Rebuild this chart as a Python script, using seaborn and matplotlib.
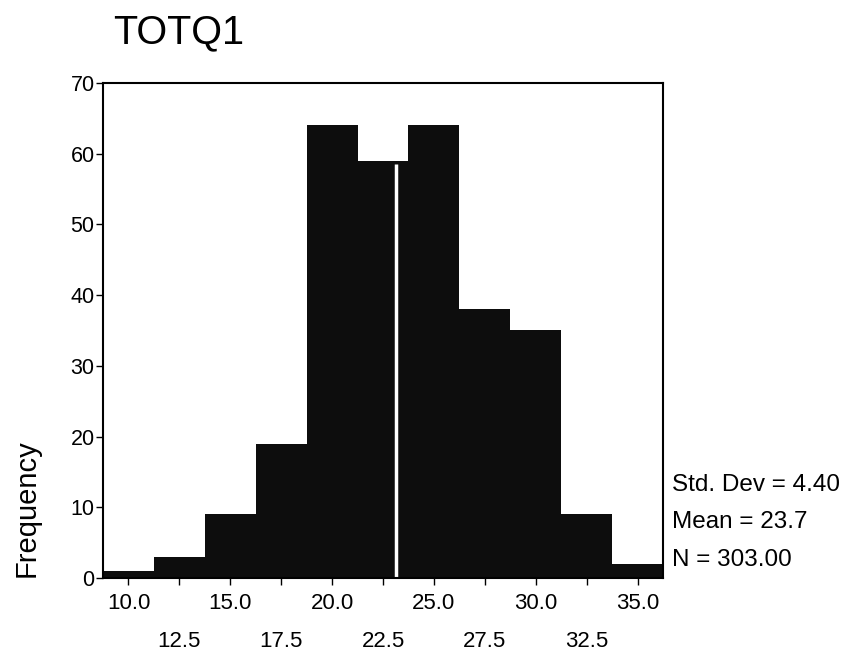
import numpy as np
import pandas as pd
import matplotlib
matplotlib.use("Agg")
import matplotlib.pyplot as plt
import seaborn as sns

# Data
bin_centers = [10.0, 12.5, 15.0, 17.5, 20.0, 22.5, 25.0, 27.5, 30.0, 32.5, 35.0]
frequencies = [1, 3, 9, 19, 64, 59, 64, 38, 35, 9, 2]
major_labels = ["10.0", "15.0", "20.0", "25.0", "30.0", "35.0"]
minor_labels = ["12.5", "17.5", "22.5", "27.5", "32.5"]
y_ticks = [0, 10, 20, 30, 40, 50, 60, 70]
stats_lines = ["Std. Dev = 4.40", "Mean = 23.7", "N = 303.00"]
white_line_x = 23.15
white_line_top = 58.5
title = "TOTQ1"

sns.set_theme(style="white")
plt.rcParams["font.family"] = ["Liberation Sans", "DejaVu Sans"]
plt.rcParams["text.color"] = "black"
plt.rcParams["xtick.color"] = "black"
plt.rcParams["ytick.color"] = "black"

df = pd.DataFrame({"TOTQ1": bin_centers, "count": frequencies})

fig = plt.figure(figsize=(8.49, 6.52), dpi=100)
ax = fig.add_axes([0.1213, 0.1135, 0.6597, 0.7592])

sns.histplot(data=df, x="TOTQ1", weights="count", binwidth=2.5,
             binrange=(8.75, 36.25), color="#0d0d0d", alpha=1.0,
             edgecolor="none", linewidth=0, ax=ax)

ax.vlines(white_line_x, 0, white_line_top, color="white", linewidth=2.5)

ax.set_xlim(8.75, 36.25)
ax.set_ylim(0, 70)
ax.set_yticks(y_ticks)
ax.set_yticklabels([str(v) for v in y_ticks], fontsize=15.5)

major_pos = [float(s) for s in major_labels]
minor_pos = [float(s) for s in minor_labels]
ax.set_xticks(major_pos)
ax.set_xticklabels(major_labels, fontsize=16)
ax.set_xticks(minor_pos, minor=True)
ax.set_xticklabels(minor_labels, minor=True, fontsize=16)

ax.tick_params(axis="x", which="major", direction="out", length=5, width=1,
               color="black", pad=6, bottom=True, labelcolor="black")
ax.tick_params(axis="x", which="minor", direction="out", length=5, width=1,
               color="black", pad=33, bottom=True, labelcolor="black")
ax.tick_params(axis="y", direction="out", length=5, width=1, color="black",
               pad=1, left=True, labelcolor="black")

for s in ax.spines.values():
    s.set_visible(True)
    s.set_color("black")
    s.set_linewidth(1.5)

ax.set_xlabel("")
ax.set_ylabel("")
ax.grid(False)

fig.text(113 / 849, 1 - 32 / 652, title, fontsize=28.5, ha="left", va="center",
         color="black")
fig.text(27 / 849, 1 - 508 / 652, "Frequency", fontsize=21, rotation=90,
         ha="center", va="center", color="black")

for i, line in enumerate(stats_lines):
    fig.text(672 / 849, 1 - (485 + 37.5 * i) / 652, line, fontsize=17.5,
             ha="left", va="center", color="black")

fig.savefig("out.png", dpi=100, facecolor="white")
